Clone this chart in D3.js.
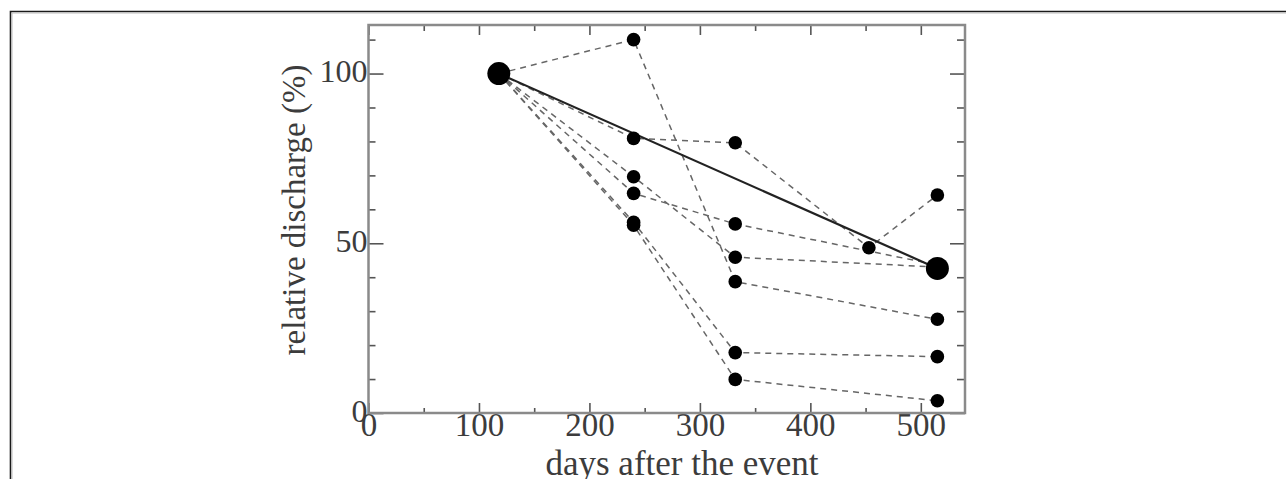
<!DOCTYPE html>
<html>
<head>
<meta charset="utf-8">
<script src="https://cdn.jsdelivr.net/npm/d3@7/dist/d3.min.js"></script>
<style>
  body { margin: 0; background: #fff; }
  svg { display: block; }
  text { font-family: "Liberation Serif", "Times New Roman", serif; fill: #3c3c3c; }
</style>
</head>
<body>
<svg id="chart" width="1286" height="479"></svg>
<script>
// sampling days (days after the event)
var sampleDays = [118, 240, 332, 453, 515];

// relative discharge (%) for each site, null = not sampled
var siteA = [100, 110.0, 38.7, null, 27.6];
var siteB = [100, 80.9, 79.6, 48.7, 64.2];
var siteC = [100, 69.6, 45.9, null, 43.0];
var siteD = [100, 64.7, 55.7, null, 43.6];
var siteE = [100, 56.2, 17.8, null, 16.6];
var siteF = [100, 55.3, 9.9, null, 3.6];

// mean trend (big dots + solid line)
var meanDays = [118, 515];
var meanValues = [100, 42.6];

var xTicks = [0, 100, 200, 300, 400, 500];
var xMinorTicks = [50, 150, 250, 350, 450];
var yTicks = [0, 50, 100];
var yMinorTicks = [10, 20, 30, 40, 60, 70, 80, 90, 110];

var svg = d3.select('#chart');

// outer frame of the figure
svg.append('path')
  .attr('d', 'M10.5,479 V11.5 H1286')
  .attr('fill', 'none')
  .attr('stroke', '#1a1a1a')
  .attr('stroke-width', 1.6);
svg.append('path')
  .attr('d', 'M12,479 V13 H1286')
  .attr('fill', 'none')
  .attr('stroke', '#bbb')
  .attr('stroke-width', 1);

var plotLeft = 368.5, plotRight = 965, plotTop = 25, plotBottom = 413;

var x = d3.scaleLinear().domain([0, 540]).range([plotLeft, plotRight]);
var y = d3.scaleLinear().domain([0, 114.3]).range([plotBottom, plotTop]);

var g = svg.append('g');

function tickStyle(sel) {
  sel.select('.domain').remove();
  sel.selectAll('.tick line').attr('stroke', '#555').attr('stroke-width', 1.6);
}

// bottom axis, major + minor, ticks pointing inward
g.append('g').attr('transform', 'translate(0,' + plotBottom + ')')
  .call(d3.axisBottom(x).tickValues(xTicks).tickSize(-10).tickPadding(0).tickFormat(d3.format('d')))
  .call(tickStyle)
  .call(function(s) {
    s.selectAll('text').attr('font-size', 33).attr('dy', '0.71em').attr('fill', '#444');
  });
g.append('g').attr('transform', 'translate(0,' + plotBottom + ')')
  .call(d3.axisBottom(x).tickValues(xMinorTicks).tickSize(-5).tickFormat(''))
  .call(tickStyle);

// top axis
g.append('g').attr('transform', 'translate(0,' + plotTop + ')')
  .call(d3.axisTop(x).tickValues(xTicks).tickSize(-10).tickFormat(''))
  .call(tickStyle);
g.append('g').attr('transform', 'translate(0,' + plotTop + ')')
  .call(d3.axisTop(x).tickValues(xMinorTicks).tickSize(-6).tickFormat(''))
  .call(tickStyle);

// left axis
g.append('g').attr('transform', 'translate(' + plotLeft + ',0)')
  .call(d3.axisLeft(y).tickValues(yTicks).tickSize(-15).tickPadding(1).tickFormat(d3.format('d')))
  .call(tickStyle)
  .call(function(s) {
    s.selectAll('text').attr('font-size', 32).attr('dy', '0.25em').attr('fill', '#444');
  });
g.append('g').attr('transform', 'translate(' + plotLeft + ',0)')
  .call(d3.axisLeft(y).tickValues(yMinorTicks).tickSize(-7).tickFormat(''))
  .call(tickStyle);

// right axis
g.append('g').attr('transform', 'translate(' + plotRight + ',0)')
  .call(d3.axisRight(y).tickValues(yTicks).tickSize(-15).tickFormat(''))
  .call(tickStyle);
g.append('g').attr('transform', 'translate(' + plotRight + ',0)')
  .call(d3.axisRight(y).tickValues(yMinorTicks).tickSize(-8).tickFormat(''))
  .call(tickStyle);

// plot box
g.append('rect')
  .attr('x', plotLeft).attr('y', plotTop)
  .attr('width', plotRight - plotLeft).attr('height', plotBottom - plotTop)
  .attr('fill', 'none')
  .attr('stroke', '#8a8a8a')
  .attr('stroke-width', 2.5);

var sites = [siteA, siteB, siteC, siteD, siteE, siteF];

function toPoints(values, days) {
  return values.map(function(v, i) { return { d: days[i], v: v }; })
    .filter(function(p) { return p.v !== null; });
}

var line = d3.line()
  .x(function(p) { return x(p.d); })
  .y(function(p) { return y(p.v); });

var siteData = sites.map(function(s) { return toPoints(s, sampleDays); });
var meanData = toPoints(meanValues, meanDays);

// dashed site lines
g.selectAll('.site-line').data(siteData).enter()
  .append('path')
  .attr('class', 'site-line')
  .attr('d', line)
  .attr('fill', 'none')
  .attr('stroke', '#666')
  .attr('stroke-width', 1.5)
  .attr('stroke-dasharray', '6,5');

// solid mean line
g.append('path')
  .datum(meanData)
  .attr('d', line)
  .attr('fill', 'none')
  .attr('stroke', '#222')
  .attr('stroke-width', 2.2);

// site dots (skip the shared start point, it sits under the big dot)
var dots = [];
siteData.forEach(function(pts) { pts.slice(1).forEach(function(p) { dots.push(p); }); });

g.selectAll('.dot').data(dots).enter()
  .append('circle')
  .attr('class', 'dot')
  .attr('cx', function(p) { return x(p.d); })
  .attr('cy', function(p) { return y(p.v); })
  .attr('r', 6.8)
  .attr('fill', '#000');

g.selectAll('.mean-dot').data(meanData).enter()
  .append('circle')
  .attr('class', 'mean-dot')
  .attr('cx', function(p) { return x(p.d); })
  .attr('cy', function(p) { return y(p.v); })
  .attr('r', 11.5)
  .attr('fill', '#000');

// axis titles
svg.append('text')
  .attr('x', 682).attr('y', 475)
  .attr('text-anchor', 'middle')
  .attr('font-size', 35)
  .text('days after the event');

svg.append('text')
  .attr('transform', 'translate(305,210) rotate(-90)')
  .attr('text-anchor', 'middle')
  .attr('font-size', 33)
  .text('relative discharge (%)');
</script>
</body>
</html>
